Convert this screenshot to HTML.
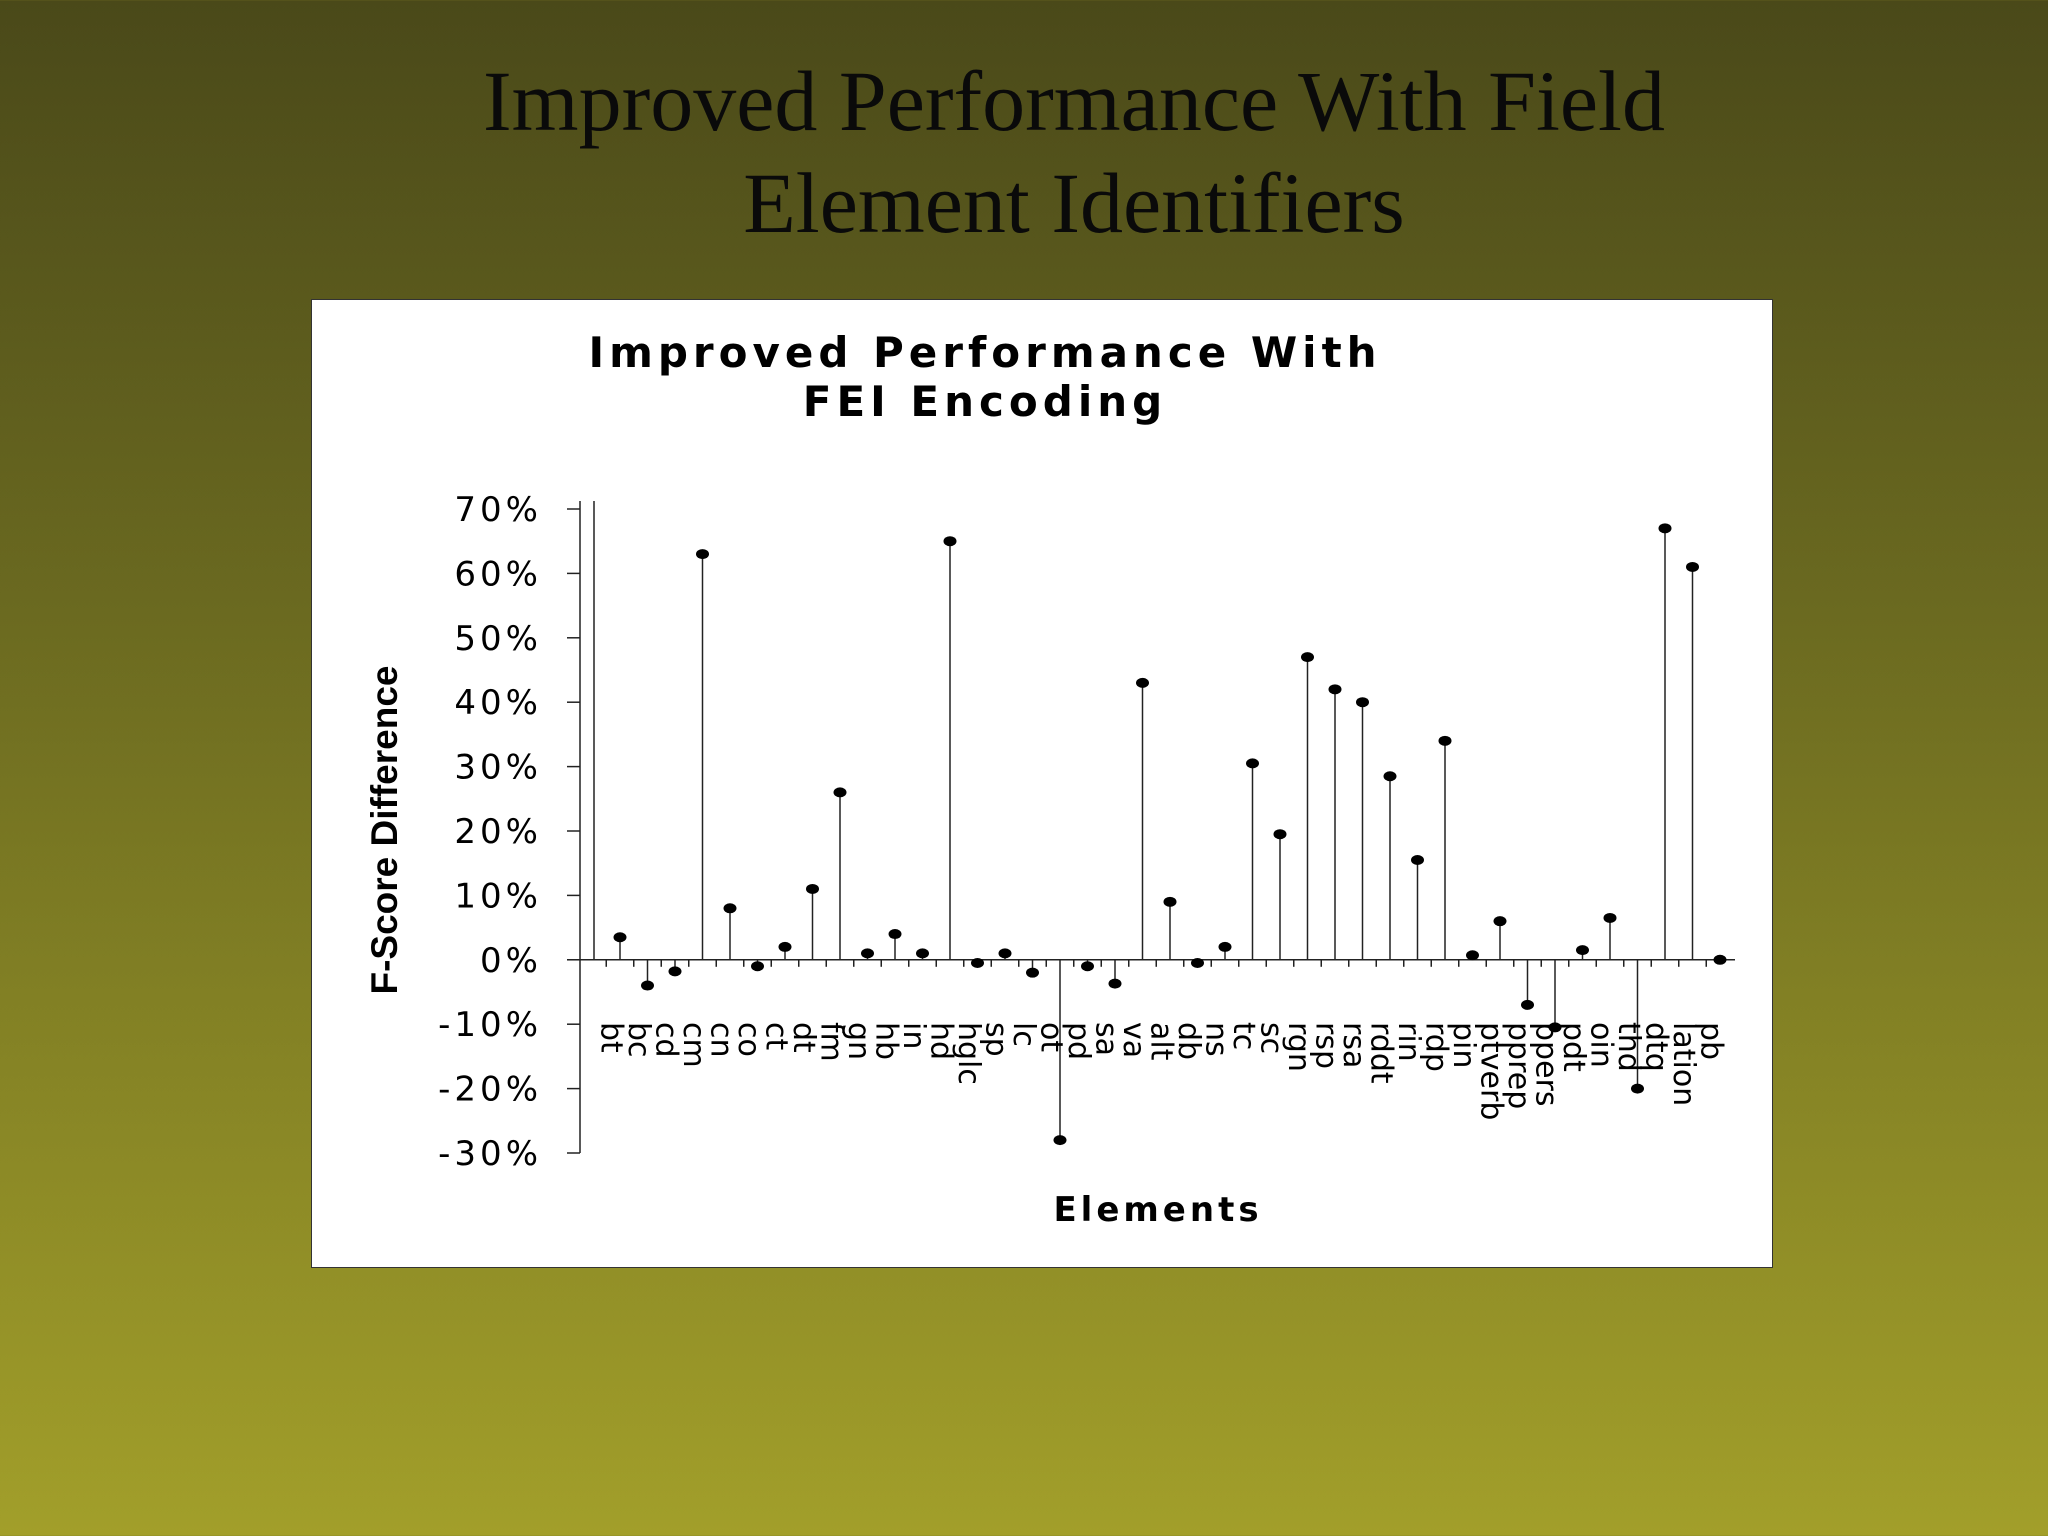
<!DOCTYPE html>
<html><head><meta charset="utf-8"><style>
html,body{margin:0;padding:0}
body{width:2048px;height:1536px;background:linear-gradient(180deg,#4a4919 0%,#6b6a20 40%,#a29f2a 100%);position:relative;overflow:hidden;font-family:"Liberation Serif",serif}
.title{position:absolute;left:0;width:2148px;text-align:center;font-size:86px;color:#0a0a0a;line-height:102px;top:50px;font-family:"Liberation Serif",serif}
#chart{position:absolute;left:311px;top:299px;width:1460px;height:967px;background:#fff;border:1px solid #333}
</style></head><body>
<div class="title">Improved Performance With Field<br>Element Identifiers</div>
<svg id="chart" width="1460" height="967" viewBox="311 299 1460 967">
<text x="984" y="366" text-anchor="middle" font-family="DejaVu Sans" font-weight="bold" font-size="42" letter-spacing="5">Improved Performance With</text>
<text x="984" y="415" text-anchor="middle" font-family="DejaVu Sans" font-weight="bold" font-size="42" letter-spacing="5">FEI Encoding</text>
<text transform="translate(396,829) rotate(-90)" text-anchor="middle" font-family="Liberation Sans" font-weight="bold" font-size="37">F-Score Difference</text>
<text x="1157" y="1220" text-anchor="middle" font-family="DejaVu Sans" font-weight="bold" font-size="34" letter-spacing="4">Elements</text>
<g id="g"></g>
</svg>
<script>
const categories=["bt","bc","cd","cm","cn","co","ct","dt","fm","gn","hb","in","hd","hglc","sp","lc","ot","pd","sa","va","alt","db","ns","tc","sc","rgn","rsp","rsa","rddt","rin","rdp","pin","ptverb","pprep","ppers","pdt","oin","thd","dtq","lation","pb"];
const values=[3.5,-4,-1.8,63,8,-1,2,11,26,1,4,1,65,-0.5,1,-2,-28,-1,-3.7,43,9,-0.5,2,30.5,19.5,47,42,40,28.5,15.5,34,0.7,6,-7,-10.5,1.5,6.5,-20,67,61,0];
const yTicks=[70,60,50,40,30,20,10,0,-10,-20,-30];
const NS="http://www.w3.org/2000/svg",g=document.getElementById('g');
const y=v=>958.8-v*6.44;
const x=i=>619+i*27.5;
function mk(t,a){const e=document.createElementNS(NS,t);for(const k in a)e.setAttribute(k,a[k]);g.appendChild(e);return e;}
let e;
e=mk('line',{x1:579,y1:500,x2:579,y2:1152,stroke:'#222','stroke-width':1.5});


e=mk('line',{x1:593,y1:500,x2:593,y2:959,stroke:'#222','stroke-width':1.5});


e=mk('line',{x1:566,y1:y(0),x2:1734,y2:y(0),stroke:'#222','stroke-width':1.5});


yTicks.forEach(t=>{
 e=mk('line',{x1:566,y1:y(t),x2:579,y2:y(t),stroke:'#222','stroke-width':1.5});
 
 
 e=mk('text',{x:541,y:y(t)+12,'text-anchor':'end','font-family':'DejaVu Sans','font-size':34,'letter-spacing':4});
 e.textContent=t+'%';
 
 
});
categories.forEach((c,i)=>{
 e=mk('line',{x1:x(i)-13.75,y1:y(0),x2:x(i)-13.75,y2:y(0)+7,stroke:'#222','stroke-width':1.5});
 
 
 e=mk('line',{x1:x(i),y1:y(0),x2:x(i),y2:y(values[i]),stroke:'#222','stroke-width':1.5});
 
 
 e=mk('ellipse',{cx:x(i),cy:y(values[i]),rx:6.5,ry:5,fill:'#000'});
 
 
 e=mk('text',{x:x(i)-9,y:1021,'font-family':'DejaVu Sans','font-size':30});
 e.setAttribute('style','writing-mode:vertical-rl;glyph-orientation-vertical:90');
 e.textContent=c;
 
 
});
</script>
</body></html>
